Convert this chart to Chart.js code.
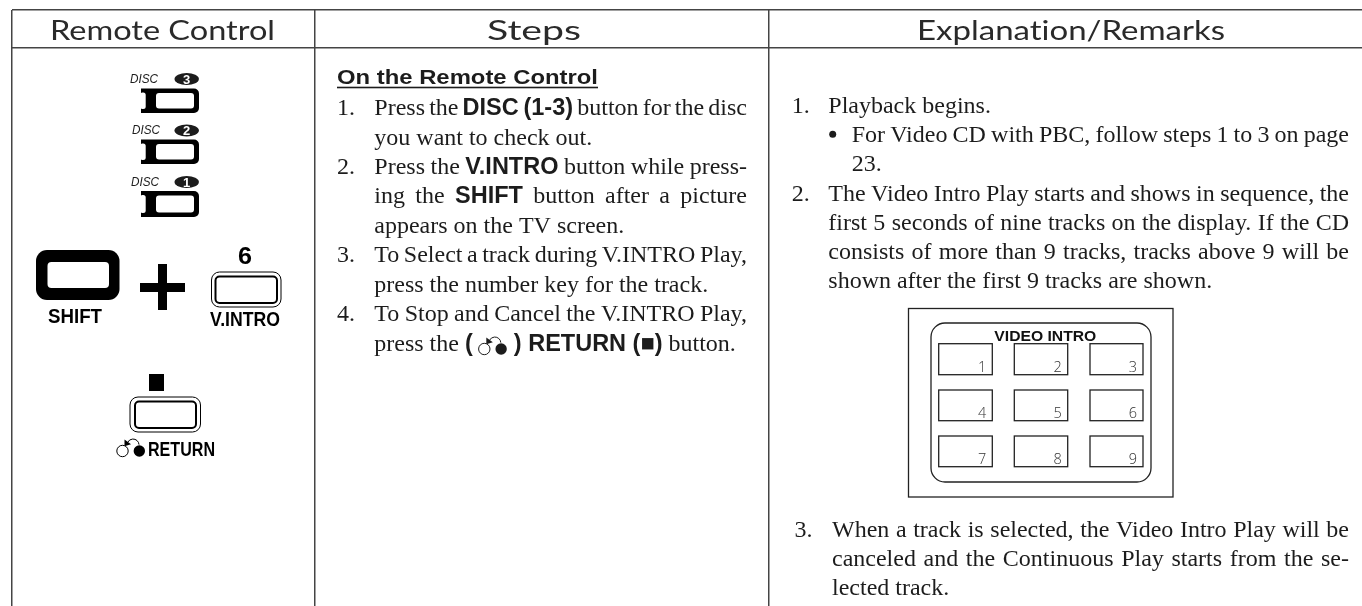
<!DOCTYPE html>
<html>
<head>
<meta charset="utf-8">
<title>V.INTRO Play</title>
<script src="https://cdn.jsdelivr.net/npm/chart.js@4"></script>
<style>
    html, body { margin: 0; padding: 0; background: #fff; }
    canvas { display: block; }
</style>
</head>
<body>
<canvas id="manualChart" width="1362" height="606"></canvas>
<script>
// Text content of the page
const columnHeaders = ['Remote Control', 'Steps', 'Explanation/Remarks'];
const stepHeading = 'On the Remote Control';
const stepNumbers = ['1.', '', '2.', '', '', '3.', '', '4.', ''];
const stepLines = [
    'Press the **DISC (1-3)** button for the disc',
    'you want to check out.',
    'Press the **V.INTRO** button while press-',
    'ing the **SHIFT** button after a picture',
    'appears on the TV screen.',
    'To Select a track during V.INTRO Play,',
    'press the number key for the track.',
    'To Stop and Cancel the V.INTRO Play,',
    'press the **( **{ret}** ) RETURN (■)** button.'
];
const remarkNumbers = ['1.', '', '', '2.', '', '', ''];
const remarkLines = [
    'Playback begins.',
    'For Video CD with PBC, follow steps 1 to 3 on page',
    '23.',
    'The Video Intro Play starts and shows in sequence, the',
    'first 5 seconds of nine tracks on the display. If the CD',
    'consists of more than 9 tracks, tracks above 9 will be',
    'shown after the first 9 tracks are shown.'
];
const lastRemarkNumber = '3.';
const lastRemarkLines = [
    'When a track is selected, the Video Intro Play will be',
    'canceled and the Continuous Play starts from the se-',
    'lected track.'
];
const discLabel = 'DISC';
const discNumbers = ['3', '2', '1'];
const remoteLabels = ['SHIFT', '6', 'V.INTRO', 'RETURN'];
const screenTitle = 'VIDEO INTRO';
const trackNumbers = ['1', '2', '3', '4', '5', '6', '7', '8', '9'];

// Layout, in page units of the two linear scales
const columnEdges = [12, 314.5, 768.5];
const rowEdges = [10, 47.5];
const stepBaselines = [114.5, 144.5, 174, 203.3, 232.7, 262.3, 291.7, 321, 351];
const stepJustified = [true, false, true, true, false, true, false, true, false];
const remarkBaselines = [112.7, 141.7, 171, 200.7, 230, 259, 288];
const remarkJustified = [false, true, false, true, true, true, false];
const lastBaselines = [536.7, 566, 595];
const lastJustified = [true, true, false];
const headerSpans = [[50, 275], [487, 581], [917, 1225]];
const discRows = [
    { labelX: 130, labelY: 83, badgeY: 79, top: 88.5, bottom: 113 },
    { labelX: 132, labelY: 134, badgeY: 130.5, top: 139.5, bottom: 164 },
    { labelX: 131, labelY: 186, badgeY: 182, top: 191, bottom: 217 }
];
const boxColumns = [[938.7, 992.3], [1014.3, 1067.7], [1090, 1143]];
const boxRows = [[343.7, 374.7], [390, 420.7], [436, 466.7]];

const serif = '"Liberation Serif", serif';
const sans = '"Liberation Sans", sans-serif';
const inkColor = '#1c1c1c';

function roundBox(ctx, x, y, x2, y2, r) {
    ctx.beginPath();
    ctx.roundRect(x, y, x2 - x, y2 - y, r);
}

// Text squeezed or stretched to a given width
function fitText(ctx, text, x, baseline, width, font) {
    ctx.save();
    ctx.font = font;
    const natural = ctx.measureText(text).width;
    ctx.translate(x, baseline);
    ctx.scale(width / natural, 1);
    ctx.textAlign = 'left';
    ctx.fillText(text, 0, 0);
    ctx.restore();
}

function returnIcon(ctx, x, y, r) {
    ctx.save();
    ctx.lineWidth = 1;
    ctx.beginPath();
    ctx.arc(x, y, r, 0, Math.PI * 2);
    ctx.stroke();
    ctx.beginPath();
    ctx.arc(x + r * 2.95, y, r, 0, Math.PI * 2);
    ctx.fill();
    ctx.beginPath();
    ctx.arc(x + r * 1.85, y - r * 1.05, r * 1.05, -Math.PI * 0.02, Math.PI * 1.15, true);
    ctx.stroke();
    ctx.beginPath();
    ctx.moveTo(x + r * 0.35, y - r * 0.85);
    ctx.lineTo(x + r * 0.35, y - r * 2.0);
    ctx.lineTo(x + r * 1.5, y - r * 1.2);
    ctx.closePath();
    ctx.fill();
    ctx.restore();
}

// Splits "plain **bold** {ret}" markup and draws it, justified when a right edge is given
function richLine(ctx, markup, x, baseline, right) {
    const runs = markup.split(/(\*\*.*?\*\*|\{ret\})/).filter(s => s !== '').map(s => {
        if (s === '{ret}') return { icon: true, width: 28 };
        if (s.startsWith('**')) return { text: s.slice(2, -2), font: 'bold 23.5px ' + sans };
        return { text: s, font: '24px ' + serif };
    });
    let natural = 0;
    let spaces = 0;
    ctx.wordSpacing = '0px';
    runs.forEach(run => {
        if (run.icon) { natural += run.width; return; }
        ctx.font = run.font;
        natural += ctx.measureText(run.text).width;
        spaces += run.text.split(' ').length - 1;
    });
    const extra = right && spaces ? (right - x - natural) / spaces : 0;
    ctx.wordSpacing = extra + 'px';
    let cursor = x;
    runs.forEach(run => {
        if (run.icon) {
            returnIcon(ctx, cursor + 5, baseline - 2, 5.7);
            cursor += run.width;
            return;
        }
        ctx.font = run.font;
        ctx.fillText(run.text, cursor, baseline);
        cursor += ctx.measureText(run.text).width;
    });
    ctx.wordSpacing = '0px';
}

const manualPage = {
    id: 'manualPage',
    afterDraw(chart) {
        const ctx = chart.ctx;
        const sx = v => chart.scales.x.getPixelForValue(v);
        const sy = v => chart.scales.y.getPixelForValue(v);
        ctx.save();
        ctx.fillStyle = inkColor;
        ctx.strokeStyle = inkColor;
        ctx.textBaseline = 'alphabetic';

        // Header row, no ligatures in the wide face
        ctx.fillStyle = '#2a2a2a';
        ctx.textRendering = 'optimizeSpeed';
        columnHeaders.forEach((name, i) => {
            const span = headerSpans[i];
            fitText(ctx, name, sx(span[0]), sy(39.5), span[1] - span[0], '400 26px Lato, sans-serif');
        });
        ctx.textRendering = 'auto';
        ctx.fillStyle = inkColor;

        // Disc buttons
        discRows.forEach((row, i) => {
            fitText(ctx, discLabel, sx(row.labelX), sy(row.labelY), 28, 'italic 13px ' + sans);
            ctx.beginPath();
            ctx.ellipse(sx(186.7), sy(row.badgeY), 12.2, 6.1, 0, 0, Math.PI * 2);
            ctx.fill();
            ctx.fillStyle = '#fff';
            ctx.font = 'bold 13px ' + sans;
            ctx.textAlign = 'center';
            ctx.fillText(discNumbers[i], sx(186.7), sy(row.badgeY + 4.7));
            ctx.textAlign = 'left';
            ctx.fillStyle = '#000';
            ctx.beginPath();
            ctx.roundRect(sx(141), sy(row.top), 58, row.bottom - row.top, [0, 5, 5, 0]);
            ctx.fill();
            ctx.fillStyle = '#fff';
            roundBox(ctx, sx(156), sy(row.top + 4.5), sx(194), sy(row.bottom - 4.5), 3);
            ctx.fill();
            roundBox(ctx, sx(140), sy(row.top + 4), sx(145.7), sy(row.bottom - 4), 2.5);
            ctx.fill();
            ctx.fillStyle = inkColor;
        });

        // SHIFT + 6 V.INTRO
        ctx.fillStyle = '#000';
        roundBox(ctx, sx(36), sy(250), sx(119.5), sy(300), 11);
        ctx.fill();
        ctx.fillStyle = '#fff';
        roundBox(ctx, sx(47.5), sy(262), sx(109), sy(288), 4);
        ctx.fill();
        ctx.fillStyle = '#000';
        fitText(ctx, remoteLabels[0], sx(48), sy(322.7), 54, 'bold 20px ' + sans);
        ctx.fillRect(sx(140), sy(283), 45, 9);
        ctx.fillRect(sx(158), sy(264), 9, 46);
        fitText(ctx, remoteLabels[1], sx(238), sy(264), 14, 'bold 23px ' + sans);
        ctx.strokeStyle = '#000';
        ctx.lineWidth = 1;
        roundBox(ctx, sx(211.5), sy(272), sx(281), sy(307), 8);
        ctx.stroke();
        ctx.lineWidth = 2;
        roundBox(ctx, sx(215.5), sy(276.5), sx(277), sy(303), 4);
        ctx.stroke();
        fitText(ctx, remoteLabels[2], sx(210), sy(326), 70, 'bold 20px ' + sans);

        // Stop / RETURN button
        ctx.fillRect(sx(149), sy(374), 15, 17);
        ctx.lineWidth = 1;
        roundBox(ctx, sx(130), sy(397), sx(200.5), sy(432), 8);
        ctx.stroke();
        ctx.lineWidth = 2;
        roundBox(ctx, sx(135), sy(401.5), sx(196), sy(428), 4);
        ctx.stroke();
        returnIcon(ctx, sx(122.5), sy(451), 5.7);
        fitText(ctx, remoteLabels[3], sx(148), sy(456), 67, 'bold 20px ' + sans);

        // Steps column
        ctx.fillStyle = inkColor;
        ctx.strokeStyle = inkColor;
        fitText(ctx, stepHeading, sx(337), sy(84), 261, 'bold 21px ' + sans);
        ctx.fillRect(sx(337), sy(86.7), 261, 1.6);
        stepLines.forEach((line, i) => {
            ctx.font = '24px ' + serif;
            ctx.fillText(stepNumbers[i], sx(337), sy(stepBaselines[i]));
            richLine(ctx, line, sx(374.3), sy(stepBaselines[i]), stepJustified[i] ? sx(747) : null);
        });

        // Remarks column
        remarkLines.forEach((line, i) => {
            ctx.font = '24px ' + serif;
            ctx.fillText(remarkNumbers[i], sx(791.7), sy(remarkBaselines[i]));
            const sub = i === 1 || i === 2;
            if (i === 1) {
                ctx.beginPath();
                ctx.arc(sx(832.7), sy(remarkBaselines[i] - 7.4), 3.5, 0, Math.PI * 2);
                ctx.fill();
            }
            richLine(ctx, line, sx(sub ? 851.7 : 828.3), sy(remarkBaselines[i]), remarkJustified[i] ? sx(1349) : null);
        });
        ctx.font = '24px ' + serif;
        ctx.fillText(lastRemarkNumber, sx(794.6), sy(lastBaselines[0]));
        lastRemarkLines.forEach((line, i) => {
            richLine(ctx, line, sx(832), sy(lastBaselines[i]), lastJustified[i] ? sx(1349) : null);
        });

        // VIDEO INTRO screen
        ctx.strokeStyle = '#222';
        ctx.lineWidth = 1.3;
        ctx.strokeRect(sx(908.5), sy(308.5), 264.5, 188.5);
        roundBox(ctx, sx(931), sy(323), sx(1151), sy(482), 14);
        ctx.stroke();
        ctx.fillStyle = '#111';
        fitText(ctx, screenTitle, sx(994.3), sy(340.7), 102, 'bold 15px ' + sans);
        trackNumbers.forEach((num, i) => {
            const col = boxColumns[i % 3];
            const row = boxRows[Math.floor(i / 3)];
            ctx.strokeRect(sx(col[0]), sy(row[0]), col[1] - col[0], row[1] - row[0]);
            ctx.fillStyle = '#333';
            ctx.font = '300 14.5px "Open Sans", sans-serif';
            ctx.textAlign = 'right';
            ctx.fillText(num, sx(col[1] - 6), sy(row[1] - 2.5));
            ctx.textAlign = 'left';
        });
        ctx.restore();
    }
};

const config = {
    type: 'scatter',
    data: { datasets: [{ data: [], pointRadius: 0 }] },
    options: {
        responsive: false,
        animation: false,
        layout: { padding: { left: 12, top: 10, right: 0, bottom: 0 } },
        plugins: { legend: { display: false }, tooltip: { enabled: false } },
        scales: {
            x: {
                type: 'linear',
                min: 12,
                max: 1362,
                afterBuildTicks: axis => { axis.ticks = columnEdges.map(v => ({ value: v })); },
                ticks: { display: false },
                border: { display: false },
                grid: { color: '#444', lineWidth: 1.5, drawTicks: false, offset: false }
            },
            y: {
                type: 'linear',
                reverse: true,
                min: 10,
                max: 606,
                afterBuildTicks: axis => { axis.ticks = rowEdges.map(v => ({ value: v })); },
                ticks: { display: false },
                border: { display: false },
                grid: { color: '#444', lineWidth: 1.5, drawTicks: false }
            }
        }
    },
    plugins: [manualPage]
};

var manualChart = new Chart(document.getElementById('manualChart'), config);
</script>
</body>
</html>
